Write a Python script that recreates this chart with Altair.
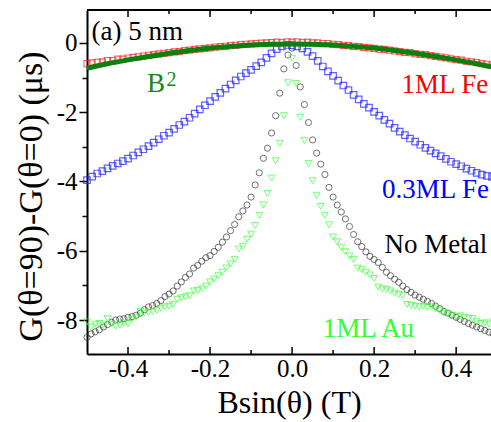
import altair as alt
import numpy as np
import pandas as pd

# field grids (T)
x_sq = np.round(-0.5 + 0.0125 * np.arange(80), 4)   # square-marker sweeps
x_pt = np.round(-0.5 + 0.01 * np.arange(100), 3)    # circle / triangle sweeps

# 1ML Fe  (red squares)
fe1_y = [-0.60, -0.58, -0.56, -0.55, -0.51, -0.51, -0.47, -0.47, -0.44, -0.42,
         -0.40, -0.38, -0.36, -0.34, -0.32, -0.30, -0.28, -0.26, -0.25, -0.22,
         -0.21, -0.19, -0.17, -0.16, -0.14, -0.12, -0.11, -0.10, -0.08, -0.07,
         -0.05, -0.04, -0.03, -0.02, -0.01, 0.00, 0.01, 0.02, 0.01, 0.03,
         0.02, 0.03, 0.01, 0.02, 0.00, 0.00, -0.02, -0.02, -0.04, -0.05,
         -0.07, -0.08, -0.10, -0.11, -0.13, -0.14, -0.16, -0.18, -0.19, -0.21,
         -0.23, -0.25, -0.27, -0.28, -0.31, -0.33, -0.34, -0.37, -0.39, -0.41,
         -0.43, -0.46, -0.48, -0.50, -0.53, -0.55, -0.57, -0.60, -0.62, -0.64]

# 0.3ML Fe  (blue squares)
fe03_y = [-3.96, -3.86, -3.77, -3.70, -3.62, -3.55, -3.48, -3.41, -3.34, -3.25,
          -3.16, -3.07, -2.98, -2.88, -2.78, -2.68, -2.59, -2.48, -2.37, -2.27,
          -2.16, -2.04, -1.92, -1.80, -1.68, -1.56, -1.44, -1.32, -1.20, -1.08,
          -0.97, -0.87, -0.78, -0.67, -0.56, -0.43, -0.30, -0.18, -0.10, -0.06,
          -0.07, -0.10, -0.16, -0.26, -0.38, -0.52, -0.68, -0.82, -0.95, -1.09,
          -1.23, -1.36, -1.50, -1.63, -1.76, -1.87, -1.99, -2.10, -2.22, -2.33,
          -2.45, -2.56, -2.66, -2.76, -2.85, -2.94, -3.03, -3.11, -3.19, -3.27,
          -3.35, -3.43, -3.50, -3.56, -3.63, -3.69, -3.75, -3.80, -3.84, -3.87]

# No Metal  (open circles)
nm_y = [-8.50, -8.40, -8.34, -8.28, -8.20, -8.13, -8.06, -8.00, -7.97, -7.96,
        -7.92, -7.90, -7.86, -7.80, -7.70, -7.62, -7.58, -7.52, -7.44, -7.32,
        -7.25, -7.16, -7.02, -6.90, -6.77, -6.67, -6.50, -6.42, -6.30, -6.20,
        -6.14, -6.02, -5.90, -5.75, -5.60, -5.42, -5.24, -5.02, -4.85, -4.68,
        -4.45, -4.10, -3.75, -3.33, -3.04, -2.60, -2.10, -1.45, -0.75, -0.35,
        -0.15, -0.65, -1.27, -1.78, -2.30, -2.80, -3.18, -3.50, -3.80, -4.17,
        -4.45, -4.68, -4.88, -5.08, -5.30, -5.53, -5.74, -5.88, -6.03, -6.16,
        -6.25, -6.34, -6.48, -6.62, -6.72, -6.82, -6.91, -7.02, -7.12, -7.20,
        -7.28, -7.34, -7.40, -7.46, -7.52, -7.60, -7.67, -7.75, -7.80, -7.86,
        -7.92, -7.98, -8.04, -8.10, -8.15, -8.20, -8.25, -8.30, -8.35, -8.39]

# 1ML Au  (open down-triangles)
au_y = [-8.05, -8.20, -8.12, -8.10, -8.15, -7.96, -8.12, -8.18, -8.15, -8.08,
        -8.10, -7.98, -7.92, -7.75, -7.80, -7.78, -7.76, -7.72, -7.66, -7.62,
        -7.60, -7.55, -7.40, -7.36, -7.33, -7.30, -7.16, -7.14, -7.10, -7.02,
        -6.90, -6.82, -6.72, -6.62, -6.50, -6.38, -6.25, -5.95, -5.87, -5.67,
        -5.52, -5.27, -4.98, -4.68, -4.35, -3.90, -3.40, -2.90, -2.10, -1.15,
        -0.44, -1.17, -2.15, -2.82, -3.48, -3.98, -4.40, -4.72, -4.98, -5.25,
        -5.60, -5.74, -5.90, -6.03, -6.15, -6.25, -6.50, -6.55, -6.62, -6.70,
        -6.80, -7.05, -7.10, -7.12, -7.16, -7.22, -7.26, -7.30, -7.55, -7.58,
        -7.60, -7.62, -7.60, -7.63, -7.62, -7.68, -7.72, -7.80, -7.82, -7.86,
        -7.90, -7.88, -7.92, -7.95, -7.96, -8.05, -8.10, -8.08, -8.12, -8.05]

# B^2 guide curve
b2_x = [-0.50, -0.45, -0.40, -0.35, -0.30, -0.25, -0.20, -0.15, -0.10, -0.05, 0.00,
        0.05, 0.10, 0.15, 0.20, 0.25, 0.30, 0.35, 0.40, 0.45, 0.50]
b2_y = [-0.73, -0.60, -0.49, -0.39, -0.30, -0.22, -0.15, -0.10, -0.06, -0.04, -0.03,
        -0.04, -0.06, -0.10, -0.15, -0.22, -0.30, -0.39, -0.49, -0.60, -0.73]

# axis ticks
x_major = [-0.4, -0.2, 0.0, 0.2, 0.4]
x_minor = [-0.3, -0.1, 0.1, 0.3]
y_ticks = [-8, -7, -6, -5, -4, -3, -2, -1, 0]

# annotations
lab_left = pd.DataFrame({
    "text": ["(a) 5 nm", "B", "2", "1ML Au"],
    "x": [-0.489, -0.354, -0.306, 0.075],
    "y": [0.09, -1.42, -1.25, -8.50],
    "color": ["#000000", "#138a13", "#138a13", "#33ff33"],
    "fs": [27, 27, 20, 27],
})
lab_right = pd.DataFrame({
    "text": ["1ML Fe", "0.3ML Fe", "No Metal"],
    "x": [0.478, 0.480, 0.476],
    "y": [-1.45, -4.48, -6.07],
    "color": ["#ff0000", "#0000ff", "#000000"],
    "fs": [27, 27, 27],
})

FONT = "Liberation Serif"
W, H = 404, 344

xscale = alt.Scale(domain=[-0.5, 0.485], nice=False, zero=False)
yscale = alt.Scale(domain=[-8.98, 0.95], nice=False, zero=False)

xaxis = alt.Axis(values=x_major, format=".1f", ticks=False, grid=False,
                 labelExpr="replace(datum.label, '\u2212', '-')",
                 labelFont=FONT, labelFontSize=25, labelColor="black", labelPadding=2,
                 domainColor="black", domainWidth=2,
                 titleFont=FONT, titleFontSize=32, titleFontWeight="normal",
                 titleColor="black", titlePadding=6)
yaxis = alt.Axis(values=y_ticks, format="d", grid=False,
                 labelExpr="datum.value % 2 === 0 ? replace(datum.label, '\u2212', '-') : ''",
                 tickSize={"condition": {"test": "datum.value % 2 === 0", "value": 8}, "value": 5},
                 tickColor="black", tickWidth=1.5,
                 labelFont=FONT, labelFontSize=25, labelColor="black", labelPadding=2,
                 domainColor="black", domainWidth=2,
                 titleFont=FONT, titleFontSize=34, titleFontWeight="normal",
                 titleColor="black", titlePadding=8, titleY=186)

XT = "Bsin(\u03b8) (T)"
YT = "G(\u03b8=90)-G(\u03b8=0) (\u03bcs)"


def xe(f="x"):
    return alt.X(f"{f}:Q", scale=xscale, axis=xaxis, title=XT)


def ye(f="y"):
    return alt.Y(f"{f}:Q", scale=yscale, axis=yaxis, title=YT)


def pts(xs, ys):
    return pd.DataFrame({"x": xs, "y": ys})


nm = alt.Chart(pts(x_pt, nm_y)).mark_point(
    shape="circle", size=38, filled=False, stroke="#333333", strokeWidth=1
).encode(x=xe(), y=ye())

au = alt.Chart(pts(x_pt, au_y)).mark_point(
    shape="triangle-down", size=48, filled=False, stroke="#3cff3c", strokeWidth=1
).encode(x=xe(), y=ye())

fe03 = alt.Chart(pts(x_sq, fe03_y)).mark_point(
    shape="square", size=42, filled=False, stroke="#1e1eff", strokeWidth=1.2
).encode(x=xe(), y=ye())

fe1 = alt.Chart(pts(x_sq, fe1_y)).mark_point(
    shape="square", size=38, filled=False, stroke="#ff1e1e", strokeWidth=1.1
).encode(x=xe(), y=ye())

b2 = alt.Chart(pts(b2_x, b2_y)).mark_line(
    color="#0c800c", strokeWidth=5, interpolate="monotone"
).encode(x=xe(), y=ye())

# inward ticks along the bottom and top edges
tick_major = pd.DataFrame({"x": x_major})
tick_minor = pd.DataFrame({"x": x_minor})
bot_major = alt.Chart(tick_major).mark_rule(color="black", strokeWidth=1.5).encode(
    x=xe(), y=alt.value(H), y2=alt.value(H - 7))
bot_minor = alt.Chart(tick_minor).mark_rule(color="black", strokeWidth=1.5).encode(
    x=xe(), y=alt.value(H), y2=alt.value(H - 4))
top_major = alt.Chart(tick_major).mark_rule(color="black", strokeWidth=1.5).encode(
    x=xe(), y=alt.value(0), y2=alt.value(7))
top_minor = alt.Chart(tick_minor).mark_rule(color="black", strokeWidth=1.5).encode(
    x=xe(), y=alt.value(0), y2=alt.value(4))
top_edge = alt.Chart(tick_major).mark_rule(color="black", strokeWidth=2).encode(
    y=alt.value(0))

txt_l = alt.Chart(lab_left).mark_text(font=FONT, align="left", baseline="alphabetic").encode(
    x=xe(), y=ye(), text="text:N",
    color=alt.Color("color:N", scale=None), size=alt.Size("fs:Q", scale=None))
txt_r = alt.Chart(lab_right).mark_text(font=FONT, align="right", baseline="alphabetic").encode(
    x=xe(), y=ye(), text="text:N",
    color=alt.Color("color:N", scale=None), size=alt.Size("fs:Q", scale=None))

chart = alt.layer(
    nm, au, fe03, fe1, b2,
    bot_major, bot_minor, top_major, top_minor, top_edge,
    txt_l, txt_r,
).properties(
    width=W, height=H,
    autosize=alt.AutoSizeParams(type="none"),
    padding={"left": 87, "top": 10, "right": 0, "bottom": 68},
    background="white",
).configure_view(stroke="transparent")

chart.save("out.html", embed_options={"renderer": "svg", "actions": False})
